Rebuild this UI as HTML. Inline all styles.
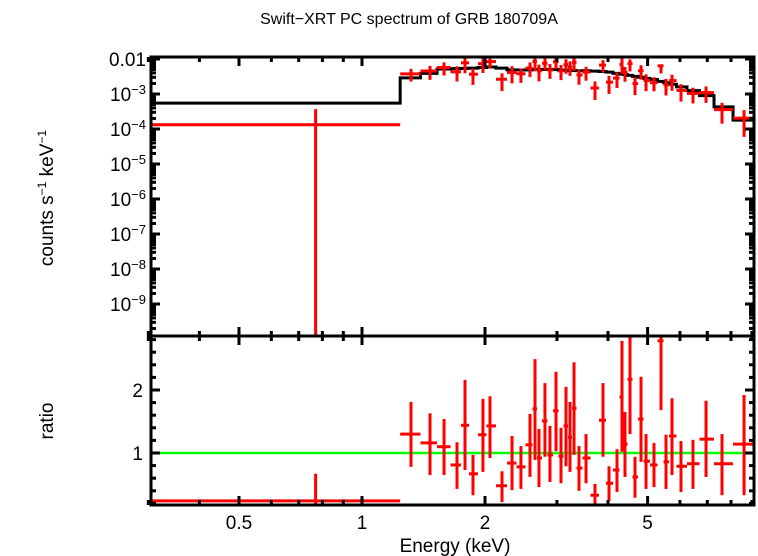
<!DOCTYPE html>
<html><head><meta charset="utf-8"><style>
html,body{margin:0;padding:0;background:#fff;}
svg{display:block;font-family:"Liberation Sans",sans-serif;}
</style></head><body>
<svg id="chart" width="758" height="556" viewBox="0 0 758 556">
<text x="409" y="24" font-size="16" text-anchor="middle">Swift−XRT PC spectrum of GRB 180709A</text>
<text x="455" y="552" font-size="19" text-anchor="middle">Energy (keV)</text>
<text transform="translate(53,198) rotate(-90)" font-size="19" text-anchor="middle">counts s<tspan font-size="12" dy="-7">−1</tspan><tspan dy="7"> keV</tspan><tspan font-size="12" dy="-7">−1</tspan></text>
<text transform="translate(53,421) rotate(-90)" font-size="19" text-anchor="middle">ratio</text>
</svg>
<script>
// ---- data ----
const binCenters=[0.77,1.318,1.467,1.588,1.708,1.787,1.869,1.977,2.057,2.201,2.329,2.449,2.577,2.651,2.711,2.804,2.884,2.984,3.069,3.157,3.229,3.303,3.397,3.534,3.717,3.889,4.023,4.208,4.328,4.402,4.528,4.657,4.818,4.956,5.184,5.393,5.546,5.737,6.035,6.457,6.95,7.604,8.611];
const firstBinLo=0.3, firstBinHi=1.24, lastBinHi=9.11;
const modelValues=[5.5e-4,2.9e-3,3.9e-3,5.2e-3,5.3e-3,5.4e-3,5.5e-3,5.7e-3,5.9e-3,5.5e-3,4.9e-3,4.85e-3,4.9e-3,5.0e-3,5.0e-3,5.0e-3,5.0e-3,5.0e-3,4.8e-3,4.8e-3,4.7e-3,4.7e-3,4.6e-3,4.6e-3,4.5e-3,4.4e-3,4.2e-3,3.9e-3,3.7e-3,3.6e-3,3.4e-3,3.2e-3,3.0e-3,2.8e-3,2.6e-3,2.3e-3,2.1e-3,1.9e-3,1.6e-3,1.25e-3,9e-4,4.3e-4,1.8e-4];
const ratioValues=[0.24,1.30,1.16,1.10,0.81,1.44,0.67,1.29,1.43,0.48,0.84,0.78,1.13,1.70,0.92,1.51,0.97,1.67,0.95,1.43,1.25,1.71,0.76,0.92,0.33,1.52,0.52,0.73,1.89,1.14,2.17,0.62,1.54,0.87,0.81,2.78,0.86,1.27,0.79,0.83,1.22,0.83,1.14];
const ratioHigh=[0.67,1.81,1.63,1.54,1.17,2.16,0.97,1.86,1.90,0.71,1.27,1.11,1.62,2.49,1.38,2.11,1.43,2.29,1.40,2.05,1.81,2.44,1.11,1.30,0.51,2.11,0.79,1.06,2.78,1.65,2.86,0.94,2.21,1.30,1.16,2.9,1.29,1.87,1.19,1.21,1.83,1.30,1.92];
const ratioLow=[0,0.78,0.65,0.65,0.43,0.73,0.33,0.70,0.92,0.22,0.41,0.43,0.62,0.89,0.46,0.94,0.54,1.03,0.52,0.79,0.70,0.97,0.40,0.52,0.15,0.94,0.24,0.38,1.02,0.62,1.30,0.29,0.86,0.43,0.46,1.68,0.43,0.65,0.38,0.43,0.62,0.33,0.33];
const xMajorTicks=[0.5,1,2,5];
const xMinorTicks=[0.3,0.4,0.6,0.7,0.8,0.9,3,4,6,7,8,9];
const topYLabels=["0.01","10","10","10","10","10","10","10"];
const topYExps=[null,"−3","−4","−5","−6","−7","−8","−9"];
const topYDecades=[-2,-3,-4,-5,-6,-7,-8,-9];
const ratioTicks=[1,2];

// ---- axes ----
const L=151,R=754,T1=57,B1=336,B2=505;
const ex=e=>362+408.6*Math.log10(e);
const yTop=v=>{ if(v<=0) return B1; const y=59+35*(-2-Math.log10(v)); return Math.min(B1,Math.max(T1,y)); };
const yRat=r=>Math.min(B2,Math.max(B1,453-63*(r-1)));
const svg=document.getElementById('chart');
const NS='http://www.w3.org/2000/svg';
function mk(tag,attrs,parent){const el=document.createElementNS(NS,tag);for(const k in attrs)el.setAttribute(k,attrs[k]);(parent||svg).appendChild(el);return el;}

const defs=mk('defs',{});
const c1=mk('clipPath',{id:'c1'},defs);mk('rect',{x:L,y:T1,width:R-L,height:B1-T1},c1);
const c2=mk('clipPath',{id:'c2'},defs);mk('rect',{x:L,y:B1,width:R-L,height:B2-B1},c2);
const gTop=mk('g',{'clip-path':'url(#c1)'});


const gBot=mk('g',{'clip-path':'url(#c2)'});



const n=binCenters.length;
const lo=[],hi=[];
for(let i=0;i<n;i++){
  lo.push(i===0?firstBinLo:(i===1?firstBinHi:Math.sqrt(binCenters[i-1]*binCenters[i])));
  hi.push(i===0?firstBinHi:(i===n-1?lastBinHi:Math.sqrt(binCenters[i]*binCenters[i+1])));
}
let d='';
for(let i=0;i<n;i++){const y=yTop(modelValues[i]);d+=(i===0?'M':'L')+ex(lo[i])+','+y+'L'+ex(hi[i])+','+y;}
const model=mk('path',{d:d,fill:'none',stroke:'#000','stroke-width':3},gTop);



const gl=mk('line',{x1:L,x2:R,y1:yRat(1),y2:yRat(1),stroke:'#00ff00','stroke-width':2.5},gBot);



for(let i=0;i<n;i++){
  const x=ex(binCenters[i]),x0=ex(lo[i]),x1=ex(hi[i]);
  const m=modelValues[i];
  const gp=mk('g',{stroke:'#ff0000','stroke-width':3},gTop);
  
  
  mk('line',{x1:x0,x2:x1,y1:yTop(m*ratioValues[i]),y2:yTop(m*ratioValues[i])},gp);
  mk('line',{x1:x,x2:x,y1:yTop(m*ratioLow[i]),y2:yTop(m*ratioHigh[i])},gp);
  const gr=mk('g',{stroke:'#ff0000','stroke-width':3},gBot);
  
  
  mk('line',{x1:x0,x2:x1,y1:yRat(ratioValues[i]),y2:yRat(ratioValues[i])},gr);
  mk('line',{x1:x,x2:x,y1:yRat(ratioLow[i]),y2:yRat(ratioHigh[i])},gr);
}

const f1=mk('rect',{x:L,y:T1,width:R-L,height:B1-T1,fill:'none',stroke:'#000','stroke-width':3});


const f2=mk('rect',{x:L,y:B1,width:R-L,height:B2-B1,fill:'none',stroke:'#000','stroke-width':3});



const tg=mk('g',{stroke:'#000','stroke-width':3});


function xt(e,len){const x=ex(e);[[T1,1],[B1,-1],[B1,1],[B2,-1]].forEach(([y,s])=>mk('line',{x1:x,x2:x,y1:y,y2:y+s*len},tg));}
xMajorTicks.forEach(e=>xt(e,9));xMinorTicks.forEach(e=>xt(e,5));
for(let dec=-2;dec>=-10;dec--){
  for(let k=1;k<10;k++){const v=k*Math.pow(10,dec);const y=59+35*(-2-Math.log10(v));if(y<T1||y>B1)continue;const len=k===1?9:5;
    mk('line',{x1:L,x2:L+len,y1:y,y2:y},tg);mk('line',{x1:R,x2:R-len,y1:y,y2:y},tg);}
}
for(let r=0.2;r<2.9;r+=0.2){const y=yRat(r);if(y<=B1||y>=B2)continue;const maj=Math.abs(r-1)<0.01||Math.abs(r-2)<0.01;const len=maj?9:5;
  mk('line',{x1:L,x2:L+len,y1:y,y2:y},tg);mk('line',{x1:R,x2:R-len,y1:y,y2:y},tg);}

xMajorTicks.forEach(e=>{const t=mk('text',{x:ex(e),y:529,'font-size':19,'text-anchor':'middle'});t.textContent=String(e);
  
  });
topYDecades.forEach((dec,i)=>{const y=59+35*(-2-dec)+7;const t=mk('text',{x:146,y:y,'font-size':19,'text-anchor':'end'});
  
  
  if(topYExps[i]===null){t.textContent=topYLabels[i];}
  else{t.appendChild(document.createTextNode(topYLabels[i]));const s=document.createElementNS(NS,'tspan');s.setAttribute('font-size','13');s.setAttribute('dy','-7');s.textContent=topYExps[i];t.appendChild(s);}
});
ratioTicks.forEach(r=>{const t=mk('text',{x:143,y:yRat(r)+7,'font-size':19,'text-anchor':'end'});t.textContent=String(r);
  
  });
</script>
</body></html>
